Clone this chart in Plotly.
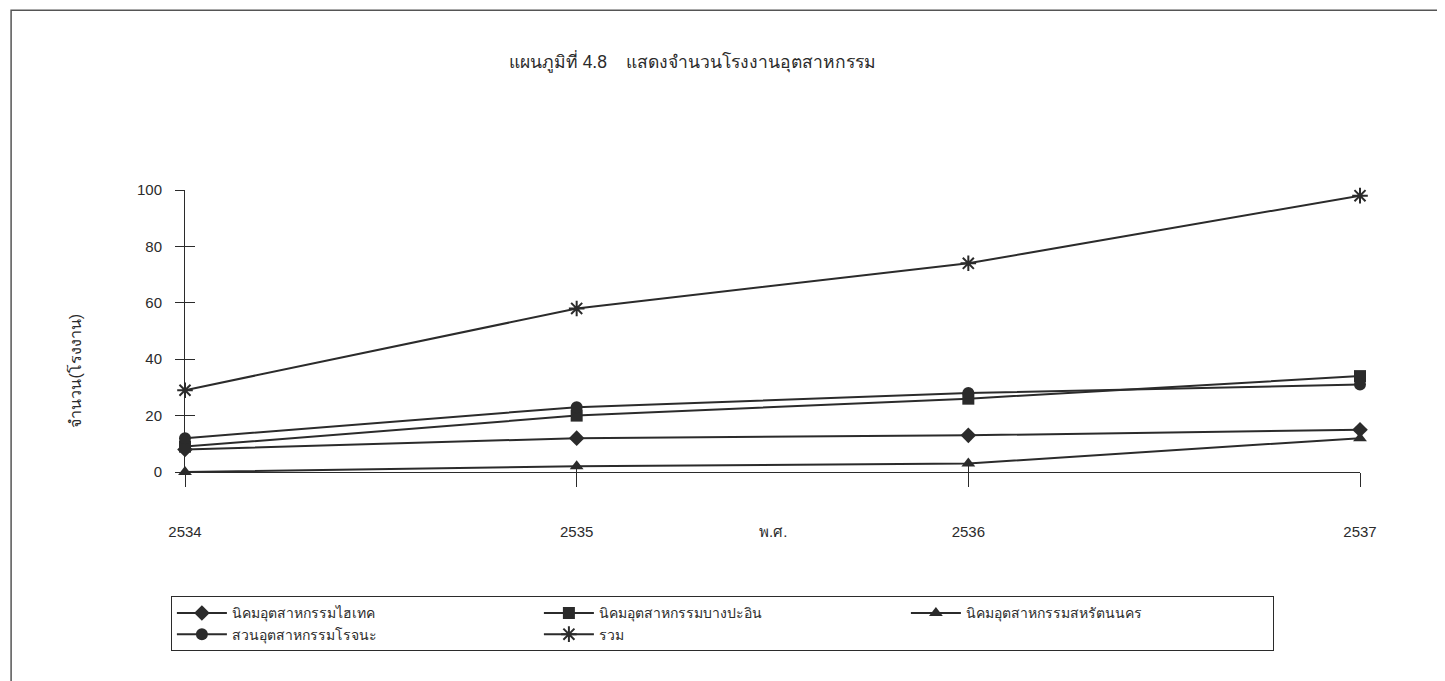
import plotly.graph_objects as go

years = [2534, 2535, 2536, 2537]
year_labels = ["2534", "2535", "2536", "2537"]

hitech = [8, 12, 13, 15]
bangpa_in = [9, 20, 26, 34]
saha_rattana = [0, 2, 3, 12]
rojana = [12, 23, 28, 31]
total = [29, 58, 74, 98]

series_names = [
    "นิคมอุตสาหกรรมไฮเทค",
    "นิคมอุตสาหกรรมบางปะอิน",
    "นิคมอุตสาหกรรมสหรัตนนคร",
    "สวนอุตสาหกรรมโรจนะ",
    "รวม",
]
series_values = [hitech, bangpa_in, saha_rattana, rojana, total]
symbols = ["diamond", "square", "triangle-up", "circle", "asterisk-open"]

y_ticks = [0, 20, 40, 60, 80, 100]

title_text = "แผนภูมิที่ 4.8    แสดงจำนวนโรงงานอุตสาหกรรม"
y_title = "จำนวน(โรงงาน)"
x_title = "พ.ศ."

ink = "#2b2b2b"
font_family = "Arial, Liberation Sans, sans-serif"

fig = go.Figure()
for name, vals, sym in zip(series_names, series_values, symbols):
    is_star = sym == "asterisk-open"
    fig.add_trace(go.Scatter(
        x=years, y=vals, name=name, mode="lines+markers",
        line=dict(color=ink, width=2),
        marker=dict(symbol=sym, size=12 if not is_star else 13, color=ink,
                    line=dict(color=ink, width=2 if is_star else 0)),
        cliponaxis=False,
    ))

# helper trace so the overlay axes (inside ticks) render
fig.add_trace(go.Scatter(x=[years[0]], y=[y_ticks[0]], xaxis="x2", yaxis="y2",
                         mode="markers", marker=dict(opacity=0), showlegend=False,
                         hoverinfo="skip"))

fig.update_layout(
    width=1437, height=673,
    paper_bgcolor="white", plot_bgcolor="white",
    margin=dict(l=177, r=85, t=182, b=208.5),
    font=dict(family=font_family, size=15, color=ink),
    title=dict(text=title_text, x=0.432, xref="paper", xanchor="center",
               y=0.92, yanchor="middle",
               font=dict(size=17.5, color=ink)),
    showlegend=True,
    legend=dict(
        orientation="h", x=-0.012, xanchor="left", y=-0.441, yanchor="top",
        entrywidth=302, bordercolor=ink, borderwidth=1,
        font=dict(size=14, color=ink), itemwidth=50,
        tracegroupgap=0,
    ),
    xaxis=dict(
        range=[years[0], years[-1]], tickvals=years, ticktext=year_labels,
        showline=True, linecolor=ink, linewidth=1,
        ticks="outside", ticklen=14, tickcolor=ink, tickwidth=1,
        ticklabelstandoff=32, showgrid=False, zeroline=False,
        tickfont=dict(size=15),
    ),
    yaxis=dict(
        range=[y_ticks[0], y_ticks[-1]], tickvals=y_ticks,
        showline=True, linecolor=ink, linewidth=1,
        ticks="outside", ticklen=9, tickcolor=ink, tickwidth=1,
        ticklabelstandoff=10, showgrid=False, zeroline=False,
        tickfont=dict(size=15),
    ),
    xaxis2=dict(
        overlaying="x", range=[years[0], years[-1]], tickvals=years,
        showticklabels=False, ticks="inside", ticklen=6, tickcolor=ink,
        showgrid=False, zeroline=False, showline=False, anchor="y2",
    ),
    yaxis2=dict(
        overlaying="y", range=[y_ticks[0], y_ticks[-1]], tickvals=y_ticks,
        showticklabels=False, ticks="inside", ticklen=10, tickcolor=ink,
        showgrid=False, zeroline=False, showline=False, anchor="x2", side="left",
    ),
    annotations=[
        dict(text=x_title, xref="paper", yref="paper", x=0.5, y=-0.21,
             xanchor="center", yanchor="middle", showarrow=False,
             font=dict(size=15, color=ink)),
        dict(text=y_title, xref="paper", yref="paper", x=-0.0936, y=0.36,
             xanchor="center", yanchor="middle", showarrow=False, textangle=-90,
             font=dict(size=16, color=ink)),
    ],
    shapes=[dict(
        type="rect", xref="paper", yref="paper",
        x0=-0.148, x1=1.2, y0=-1.2, y1=1.637,
        line=dict(color="#555555", width=1.5), fillcolor="rgba(0,0,0,0)",
        layer="below",
    )],
)

fig.write_html("out.html")
